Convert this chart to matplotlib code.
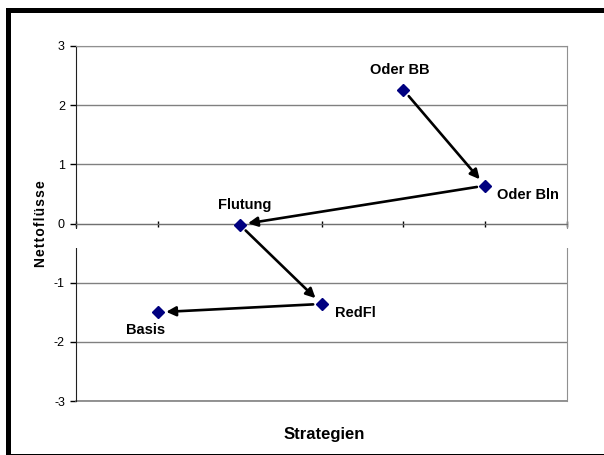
import matplotlib
matplotlib.use("Agg")
import matplotlib.pyplot as plt
from matplotlib.patches import Rectangle

plt.rcParams['font.family'] = ['Liberation Sans', 'DejaVu Sans']

# strategies in the order of the chart (x position = index + 1)
strategies = ['Basis', 'Flutung', 'RedFl', 'Oder BB', 'Oder Bln']
x_pos = [1, 2, 3, 4, 5]
netflows = [-1.50, -0.02, -1.36, 2.26, 0.64]

# arrows: (from, to) by strategy name
arrows = [('Oder BB', 'Oder Bln'), ('Oder Bln', 'Flutung'),
          ('Flutung', 'RedFl'), ('RedFl', 'Basis')]

# label offsets in pixels (dx, dy) and alignment
lab_off = {'Oder BB': (-4, 20, 'center'), 'Oder Bln': (12, -9, 'left'),
           'Flutung': (5, 20, 'center'), 'RedFl': (14, -9, 'left'),
           'Basis': (-12, -18, 'center')}

fig = plt.figure(figsize=(6.04, 4.55), dpi=100)
ax = fig.add_axes([76/604, 1-401/455, (567-76)/604, (401-46)/455])

ax.set_xlim(0, 6)
ax.set_ylim(-3, 3)
ax.set_yticks([-3, -2, -1, 0, 1, 2, 3])
ax.set_yticklabels(['-3', '-2', '-1', '0', '1', '2', '3'], fontsize=9)
ax.set_xticks([0, 1, 2, 3, 4, 5, 6])
ax.set_xticklabels([])
ax.yaxis.grid(True, color='#808080', lw=1)
ax.set_axisbelow(True)
ax.axhline(-3, color='#808080', lw=1.2, clip_on=False, zorder=2)

ax.spines['bottom'].set_position(('data', 0))
ax.spines['bottom'].set_color('#707070')
ax.spines['left'].set_color('#202020')
ax.spines['top'].set_color('#909090')
ax.spines['right'].set_color('#909090')
ax.tick_params(axis='x', direction='inout', length=5, width=1, color='black')
ax.tick_params(axis='y', direction='out', length=4, width=1, color='black', pad=4)

# white band below the zero line
ax.add_patch(Rectangle((-0.05, -0.42), 6.1, 0.335, facecolor='white',
                       edgecolor='none', zorder=2.7, clip_on=False))

ax.plot(x_pos, netflows, ls='none', marker='D', ms=6.5, color='#000080', zorder=4)

pos = {s: (x, y) for s, x, y in zip(strategies, x_pos, netflows)}
for a, b in arrows:
    ax.annotate('', xy=pos[b], xytext=pos[a],
                arrowprops=dict(arrowstyle='-|>', color='black', lw=1.9,
                                shrinkA=6, shrinkB=6, mutation_scale=14),
                zorder=3)

for s in strategies:
    dx, dy, ha = lab_off[s]
    ax.annotate(s, xy=pos[s], xytext=(dx*0.72, dy*0.72), textcoords='offset points',
                ha=ha, va='center', fontsize=10.5, fontweight='bold', zorder=5)

fig.text(41/604, 1-224/455, '\u200a'.join('Nettoflüsse'),
         rotation=90, ha='center', va='center', fontsize=10, fontweight='bold')
fig.text(324/604, 1-435/455, 'Strategien', ha='center', va='center',
         fontsize=12, fontweight='bold')

# frame of the screenshot
fig.patches.append(Rectangle((6/604, 0), 5/604, 1-8/455, transform=fig.transFigure,
                             facecolor='black', edgecolor='none'))
fig.patches.append(Rectangle((6/604, 1-13/455), 1, 5/455, transform=fig.transFigure,
                             facecolor='black', edgecolor='none'))
fig.patches.append(Rectangle((6/604, 0), 1, 1.5/455, transform=fig.transFigure,
                             facecolor='black', edgecolor='none'))

fig.savefig('out.png', dpi=100)
